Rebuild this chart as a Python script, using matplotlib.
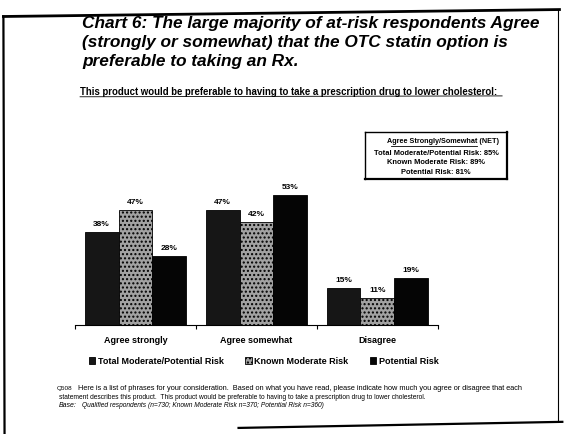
import numpy as np
import matplotlib
matplotlib.use("Agg")
import matplotlib.pyplot as plt
from matplotlib.lines import Line2D

plt.rcParams['font.family'] = ['Liberation Sans', 'DejaVu Sans']

categories = ["Agree strongly", "Agree somewhat", "Disagree"]
series_names = ["Total Moderate/Potential Risk", "Known Moderate Risk", "Potential Risk"]
total_risk = [38, 47, 15]
known_risk = [47, 42, 11]
potential_risk = [28, 53, 19]

fig = plt.figure(figsize=(5.68, 4.34), dpi=100)
fig.patch.set_facecolor("white")

# scanned page frame
fig.add_artist(Line2D([0.006, 0.985], [0.962, 0.978], color="black", lw=2.0))
fig.add_artist(Line2D([0.006, 0.008], [0.962, 0.0], color="black", lw=1.6))
fig.add_artist(Line2D([0.982, 0.982], [0.978, 0.03], color="black", lw=0.8))
fig.add_artist(Line2D([0.42, 0.99], [0.014, 0.028], color="black", lw=1.6))

fig.text(0.145, 0.962,
         "Chart 6: The large majority of at-risk respondents Agree\n"
         "(strongly or somewhat) that the OTC statin option is\n"
         "preferable to taking an Rx.",
         fontsize=12.4, fontweight="bold", fontstyle="italic",
         va="top", ha="left", linespacing=1.3)

fig.text(0.141, 0.789,
         "This product would be preferable to having to take a prescription drug to lower cholesterol:",
         fontsize=6.95, fontweight="bold", va="center", ha="left")
fig.add_artist(Line2D([0.141, 0.884], [0.777, 0.779], color="black", lw=0.6))

ax = fig.add_axes([0.132, 0.251, 0.639, 0.339])
x = np.arange(len(categories))
w = 0.28
b1 = ax.bar(x - w, total_risk, w, color="#161616", edgecolor="black", linewidth=0.6)
b2 = ax.bar(x, known_risk, w, color="#a2a2a2", edgecolor="black", hatch="....", linewidth=0.6)
b3 = ax.bar(x + w, potential_risk, w, color="#050505", edgecolor="black", linewidth=0.6)

for bars, vals in ((b1, total_risk), (b2, known_risk), (b3, potential_risk)):
    for r, v in zip(bars, vals):
        ax.annotate(f"{v}%", (r.get_x() + r.get_width() / 2, v),
                    xytext=(0, 3), textcoords="offset points",
                    ha="center", va="bottom", fontsize=6, fontweight="bold")

ax.set_xlim(-0.5, 2.5)
ax.set_ylim(0, 60)
for s in ("top", "right", "left"):
    ax.spines[s].set_visible(False)
ax.spines["bottom"].set_linewidth(0.8)
ax.set_yticks([])
ax.set_xticks(x)
ax.set_xticklabels(categories, fontsize=6.5, fontweight="bold")
ax.tick_params(axis="x", which="major", length=0, pad=8)
ax.set_xticks([-0.5, 0.5, 1.5, 2.5], minor=True)
ax.tick_params(axis="x", which="minor", length=3, width=0.8, direction="out")

ax.legend([b1, b2, b3], series_names, loc="upper center", bbox_to_anchor=(0.52, -0.16),
          ncol=3, frameon=False, handlelength=0.7, handleheight=0.7,
          handletextpad=0.3, columnspacing=2.4, prop={"weight": "bold", "size": 6.5})

# NET agree box
net = [total_risk[0] + total_risk[1], known_risk[0] + known_risk[1],
       potential_risk[0] + potential_risk[1]]
box_ax = fig.add_axes([0.643, 0.588, 0.25, 0.108])
box_ax.set_xticks([])
box_ax.set_yticks([])
for s in box_ax.spines.values():
    s.set_linewidth(1.0)
box_ax.spines["right"].set_linewidth(1.6)
box_ax.spines["bottom"].set_linewidth(1.6)
box_ax.text(0.55, 0.80, "Agree Strongly/Somewhat (NET)", ha="center", va="center",
            fontsize=5.2, fontweight="bold")
box_ax.plot([0.18, 0.79], [0.71, 0.71], color="black", lw=0.6)
box_ax.text(0.5, 0.55, f"Total Moderate/Potential Risk: {net[0]}%", ha="center",
            va="center", fontsize=5.4, fontweight="bold")
box_ax.text(0.5, 0.34, f"Known Moderate Risk: {net[1]}%", ha="center",
            va="center", fontsize=5.4, fontweight="bold")
box_ax.text(0.5, 0.13, f"Potential Risk: {net[2]}%", ha="center",
            va="center", fontsize=5.4, fontweight="bold")
box_ax.set_xlim(0, 1)
box_ax.set_ylim(0, 1)

fig.text(0.100, 0.105, "Q508", fontsize=4.6, va="center", ha="left")
fig.text(0.138, 0.105,
         "Here is a list of phrases for your consideration.  Based on what you have read, please indicate how much you agree or disagree that each",
         fontsize=5.3, va="center", ha="left")
fig.text(0.104, 0.085,
         "statement describes this product.  This product would be preferable to having to take a prescription drug to lower cholesterol.",
         fontsize=4.8, va="center", ha="left")
fig.text(0.104, 0.066, "Base:", fontsize=5, fontstyle="italic", va="center", ha="left")
fig.text(0.145, 0.066,
         "Qualified respondents (n=730; Known Moderate Risk n=370; Potential Risk n=360)",
         fontsize=4.8, fontstyle="italic", va="center", ha="left")

fig.savefig("out.png", dpi=100)
